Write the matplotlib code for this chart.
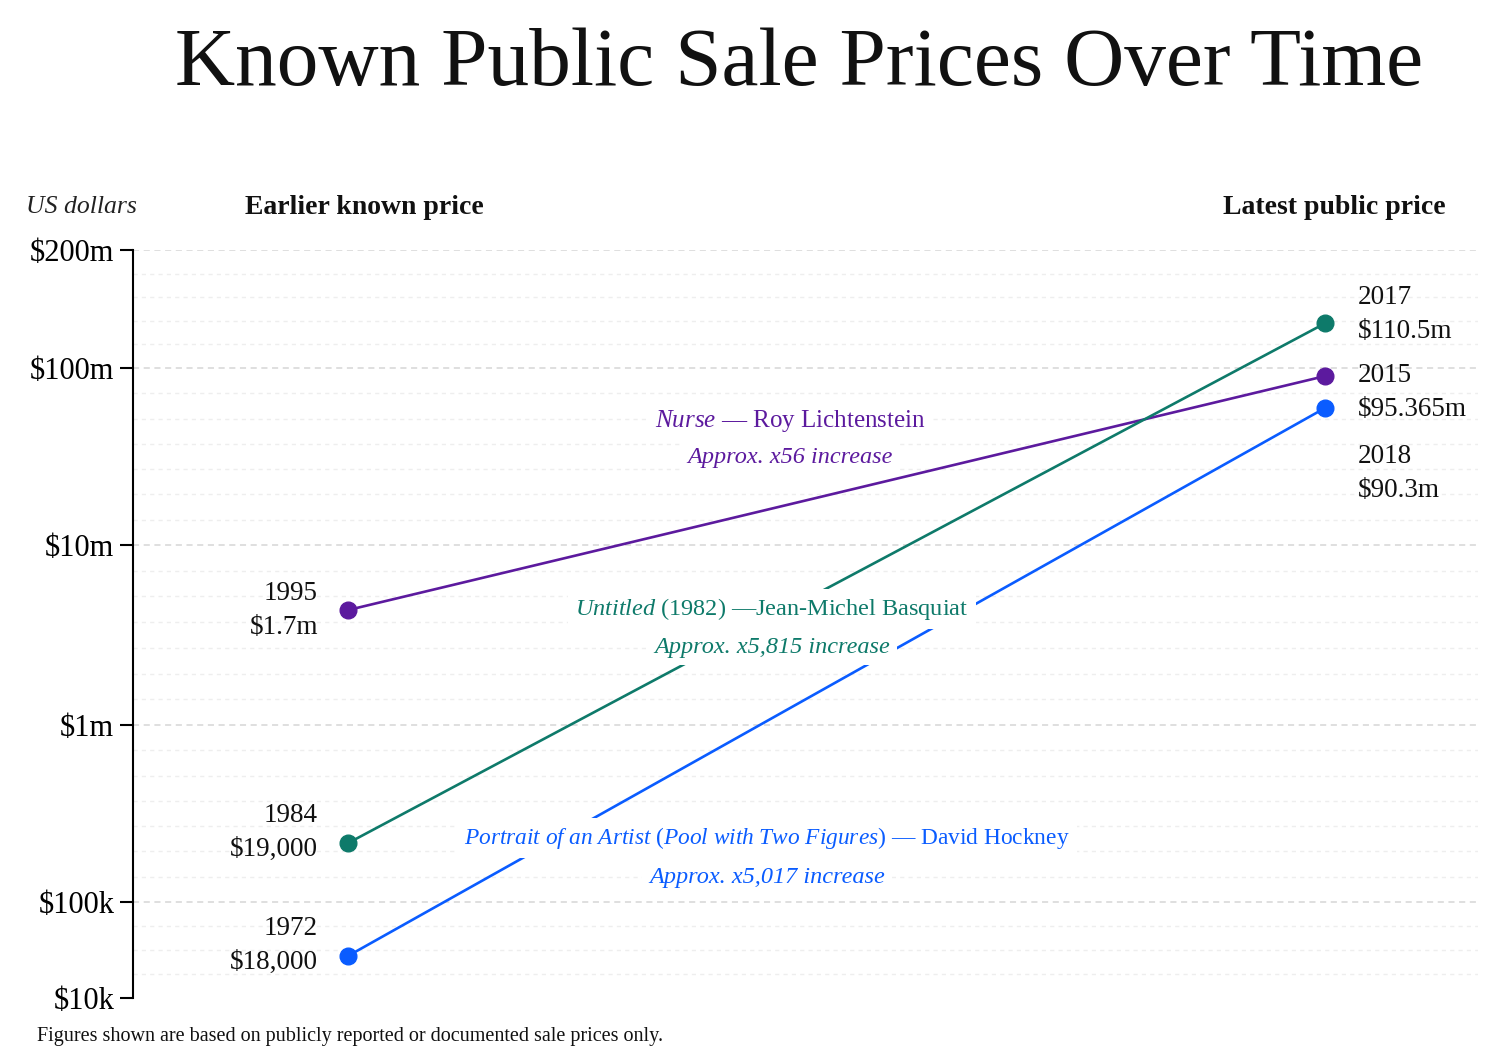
import numpy as np
import matplotlib.pyplot as plt
from matplotlib.ticker import FixedLocator, NullFormatter

# artworks, earlier sale -> latest sale
artists = ["Roy Lichtenstein", "Jean-Michel Basquiat", "David Hockney"]
colors = ["#5c1a9e", "#0e7a6a", "#0a5cff"]
# values where the dots sit on the price axis
earlier_value = [4.35e6, 2.15e5, 2.74e4]
latest_value = [9.0e7, 1.30e8, 5.94e7]
# printed labels
earlier_label = ["1995\n$1.7m", "1984\n$19,000", "1972\n$18,000"]
latest_label = ["2015\n$95.365m", "2017\n$110.5m", "2018\n$90.3m"]
title_line = [r"$\mathit{Nurse}$ — Roy Lichtenstein",
              r"$\mathit{Untitled}$ (1982) —Jean-Michel Basquiat",
              r"$\mathit{Portrait\ of\ an\ Artist\ (Pool\ with\ Two\ Figures)}$ — David Hockney"]
increase_line = ["Approx. x56 increase", "Approx. x5,815 increase", "Approx. x5,017 increase"]

tick_values = [1e4, 1e5, 1e6, 1e7, 1e8, 2e8]
tick_labels = ["$10k", "$100k", "$1m", "$10m", "$100m", "$200m"]

plt.rcParams['font.family'] = 'Liberation Serif'
plt.rcParams['mathtext.fontset'] = 'custom'
plt.rcParams['mathtext.rm'] = 'Liberation Serif'
plt.rcParams['mathtext.it'] = 'Liberation Serif:italic'
plt.rcParams['mathtext.bf'] = 'Liberation Serif:bold'

# uneven price axis: each decade is not the same height
knot_log = [0, 4, 5, 6, 7, 8, np.log10(2e8), 12]
knot_pos = [-384, 0, 96, 273, 453, 630, 748, 2198]

def fwd(v):
    v = np.asarray(v, dtype=float)
    return np.interp(np.log10(np.clip(v, 1e-12, None)), knot_log, knot_pos)

def inv(p):
    return 10 ** np.interp(p, knot_pos, knot_log)

fig = plt.figure(figsize=(14.93, 10.54), dpi=100)
ax = fig.add_axes([133 / 1493, 56 / 1054, 1345 / 1493, 748 / 1054])
ax.set_yscale('function', functions=(fwd, inv))
ax.set_ylim(1e4, 2e8)
ax.set_xlim(-0.22, 1.1566)

# faint minor lines
minor = []
for d, n in [(4, 4), (5, 7), (6, 7), (7, 7)]:
    minor += [10 ** (d + j / n) for j in range(1, n)]
minor += [10 ** (8 + j * np.log10(2) / 5) for j in range(1, 5)]
ax.yaxis.set_minor_locator(FixedLocator(minor))
ax.yaxis.set_minor_formatter(NullFormatter())
ax.grid(which='minor', axis='y', color='#eeeeee', linestyle=(0, (3, 3)), linewidth=1)
for v in tick_values[1:]:
    ax.axhline(v, color='#d6d6d6', linestyle=(0, (4, 3)), linewidth=1.1, zorder=1)

ax.set_yticks(tick_values)
ax.set_yticklabels(tick_labels)
ax.set_xticks([])
ax.tick_params(axis='y', which='major', length=9.5, width=1.5, pad=4, labelsize=22)
ax.tick_params(axis='y', which='minor', length=0)
for s in ['top', 'right', 'bottom']:
    ax.spines[s].set_visible(False)
ax.spines['left'].set_linewidth(1.5)

for i in range(3):
    ax.plot([0, 1], [earlier_value[i], latest_value[i]], color=colors[i], lw=1.9, zorder=2)
    ax.plot([0, 1], [earlier_value[i], latest_value[i]], 'o', color=colors[i], ms=12, zorder=5)

left_dy = [0, 11, 11]
right_dy = [-16, 9, -65]
for i in range(3):
    ax.annotate(earlier_label[i], (0, earlier_value[i]), xytext=(-30, left_dy[i]),
                textcoords='offset pixels', ha='right', va='center', fontsize=19.5,
                linespacing=1.47, color='#111111')
    ax.annotate(latest_label[i], (1, latest_value[i]), xytext=(33, right_dy[i]),
                textcoords='offset pixels', ha='left', va='center', fontsize=19.5,
                linespacing=1.47, color='#111111')

# series captions with white boxes that cut the lines
cap_x = [(790 - 133) / 1345, (772 - 133) / 1345, (767 - 133) / 1345]
cap_y1 = [421, 609, 838]
cap_y2 = [458, 647, 877]
cap_size = [18, 17.5, 16.8]
box = dict(boxstyle='square,pad=0.3', fc='white', ec='none')
for i in range(3):
    ax.text(cap_x[i], (998 - cap_y1[i]) / 748, title_line[i], transform=ax.transAxes,
            ha='center', va='center', fontsize=cap_size[i], color=colors[i], bbox=box, zorder=3)
    ax.text(cap_x[i], (998 - cap_y2[i]) / 748, increase_line[i], transform=ax.transAxes,
            ha='center', va='center', fontsize=17.5, style='italic', color=colors[i],
            bbox=box, zorder=3)

fig.text(799 / 1493, 1 - 85 / 1054, "Known Public Sale Prices Over Time", ha='center',
         va='baseline', fontsize=60, color='#111111')
fig.text(81 / 1493, 1 - 207 / 1054, "US dollars", ha='center', va='center',
         fontsize=18.5, style='italic', color='#222222')
fig.text(364 / 1493, 1 - 207 / 1054, "Earlier known price", ha='center', va='center',
         fontsize=20, weight='bold', color='#111111')
fig.text(1334 / 1493, 1 - 207 / 1054, "Latest public price", ha='center', va='center',
         fontsize=20, weight='bold', color='#111111')
fig.text(37 / 1493, 1 - 1036 / 1054, "Figures shown are based on publicly reported or documented sale prices only.",
         ha='left', va='center', fontsize=14.5, color='#111111')

fig.savefig("out.png", dpi=100, facecolor='white')
